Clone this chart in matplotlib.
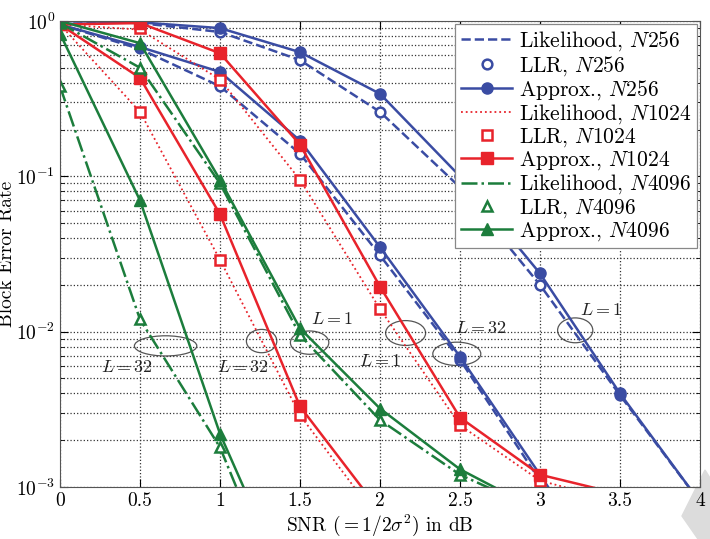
import numpy as np
import matplotlib
matplotlib.use("Agg")
import matplotlib.pyplot as plt
from matplotlib.patches import Ellipse, Polygon

plt.rcParams['font.family'] = 'serif'
plt.rcParams['font.serif'] = ['cmr10', 'DejaVu Serif']
plt.rcParams['mathtext.fontset'] = 'cm'
plt.rcParams['axes.formatter.use_mathtext'] = True

blue = '#3a4ca3'
red = '#e8232b'
green = '#1c7d3c'

# SNR points (dB)
snr = [0, 0.5, 1, 1.5, 2, 2.5, 3, 3.5, 4]

# N = 256
lik_256_L1 = [1.0, 0.97, 0.85, 0.56, 0.26, 0.085, 0.020, 0.0039, 0.0008]
llr_256_L1 = [1.0, 0.97, 0.85, 0.56, 0.26, None, 0.020, 0.0039, None]
app_256_L1 = [1.0, 0.98, 0.90, 0.63, 0.34, 0.10, 0.0237, 0.0040, 0.0008]
lik_256_L32 = [0.95, 0.66, 0.38, 0.14, 0.031, 0.0066, 0.0011, 0.0001]
llr_256_L32 = [0.95, 0.67, 0.38, 0.14, 0.031, 0.0066, 0.0011, None]
app_256_L32 = [0.95, 0.68, 0.47, 0.17, 0.035, 0.0069, 0.0012, 0.0002]

# N = 1024
lik_1024_L1 = [0.95, 0.88, 0.42, 0.095, 0.014, 0.0025, 0.0011, 0.0008]
llr_1024_L1 = [0.95, 0.90, 0.42, 0.095, 0.014, 0.0025, 0.0011, None]
app_1024_L1 = [0.95, 0.97, 0.62, 0.16, 0.0195, 0.0028, 0.0012, 0.0009]
lik_1024_L32 = [0.95, 0.26, 0.029, 0.0029, 0.0006]
llr_1024_L32 = [0.95, 0.26, 0.029, 0.0029, None]
app_1024_L32 = [0.95, 0.43, 0.057, 0.0033, 0.0007]

# N = 4096
lik_4096_L1 = [0.97, 0.50, 0.09, 0.0095, 0.0027, 0.0012, 0.0007]
llr_4096_L1 = [0.97, 0.50, 0.09, 0.0095, 0.0027, 0.0012, None]
app_4096_L1 = [1.0, 0.72, 0.095, 0.0105, 0.0032, 0.0013, 0.0007]
lik_4096_L32 = [0.38, 0.012, 0.0018, 0.0001]
llr_4096_L32 = [0.38, 0.012, 0.0018, None]
app_4096_L32 = [0.83, 0.07, 0.0022, 0.00015]

# annotation ellipses: (x centre, y centre, width in dB, height in decades)
ellipses = [(0.66, 0.0081, 0.39, 0.13), (1.26, 0.0087, 0.19, 0.15),
            (1.56, 0.0085, 0.24, 0.15), (2.16, 0.0098, 0.25, 0.16),
            (2.48, 0.0072, 0.30, 0.15), (3.22, 0.0102, 0.22, 0.16)]
labels = [(0.42, 0.0059, '$L=32$'), (1.14, 0.0059, '$L=32$'),
          (1.70, 0.0120, '$L=1$'), (2.00, 0.0065, '$L=1$'),
          (2.63, 0.0105, '$L=32$'), (3.38, 0.0138, '$L=1$')]


def clean(v):
    x = [snr[i] for i in range(len(v)) if v[i] is not None]
    y = [v[i] for i in range(len(v)) if v[i] is not None]
    return x, y


fig = plt.figure(figsize=(7.1, 5.39), dpi=100)
ax = fig.add_axes([60 / 710, 52 / 539, 640 / 710, 466 / 539])

groups = [
    (blue, '--', 'o', '256', lik_256_L1, llr_256_L1, app_256_L1, lik_256_L32, llr_256_L32, app_256_L32),
    (red, ':', 's', '1024', lik_1024_L1, llr_1024_L1, app_1024_L1, lik_1024_L32, llr_1024_L32, app_1024_L32),
    (green, '-.', '^', '4096', lik_4096_L1, llr_4096_L1, app_4096_L1, lik_4096_L32, llr_4096_L32, app_4096_L32),
]

for color, ls, mk, n, lik1, llr1, app1, lik32, llr32, app32 in groups:
    lw_lik = 1.3 if ls == ':' else 1.8
    x, y = clean(lik1)
    ax.plot(x, y, ls, color=color, lw=lw_lik, label='Likelihood, $N%s$' % n)
    x, y = clean(llr1)
    ax.plot(x, y, mk, color=color, mfc='white', mew=1.8, ms=7, ls='none',
            label='LLR, $N%s$' % n)
    x, y = clean(app1)
    ax.plot(x, y, '-', marker=mk, color=color, lw=1.8, ms=8,
            label='Approx., $N%s$' % n)
    x, y = clean(lik32)
    ax.plot(x, y, ls, color=color, lw=lw_lik)
    x, y = clean(llr32)
    ax.plot(x, y, mk, color=color, mfc='white', mew=1.8, ms=7, ls='none')
    x, y = clean(app32)
    ax.plot(x, y, '-', marker=mk, color=color, lw=1.8, ms=8)

for xc, yc, w, h in ellipses:
    e = Ellipse((xc / 4, (np.log10(yc) + 3) / 3), w / 4, h / 3,
                transform=ax.transAxes, fill=False, ec='#555555', lw=0.9)
    ax.add_patch(e)
for xt, yt, s in labels:
    ax.text(xt, yt, s, fontsize=13, ha='center', va='center', color='#222222')

ax.set_yscale('log')
ax.set_xlim(0, 4)
ax.set_ylim(1e-3, 1)
ax.set_xticks([0, 0.5, 1, 1.5, 2, 2.5, 3, 3.5, 4])
ax.set_xticklabels(['0', '0.5', '1', '1.5', '2', '2.5', '3', '3.5', '4'])
ax.grid(True, which='major', ls=':', color='#333333', lw=0.9)
ax.grid(True, which='minor', axis='y', ls=':', color='#333333', lw=0.9)
ax.tick_params(which='both', direction='in', top=True, right=True, labelsize=14)
ax.tick_params(which='major', length=6)
ax.tick_params(which='minor', length=3)
for s in ax.spines.values():
    s.set_color('#555555')

ax.set_xlabel(r'SNR $(= 1/2\sigma^2)$ in dB', fontsize=14)
ax.xaxis.set_label_coords(0.5, -0.055)
ax.set_ylabel('Block Error Rate', fontsize=14)
ax.yaxis.set_label_coords(-0.068, 0.5)

leg = ax.legend(loc='upper right', fontsize=15.5, fancybox=False, framealpha=1,
                edgecolor='#888888', borderaxespad=0.15, handlelength=2.4,
                labelspacing=0.02, handletextpad=0.3, borderpad=0.25)
leg.get_frame().set_linewidth(0.9)

fig.patches.append(Polygon([(705 / 710, 1 - 470 / 539), (682 / 710, 1 - 516 / 539),
                            (698 / 710, 0), (1, 0), (1, 1 - 478 / 539)],
                           closed=True, transform=fig.transFigure,
                           color='#dcdcdc', zorder=-1))

fig.savefig('out.png', dpi=100)
